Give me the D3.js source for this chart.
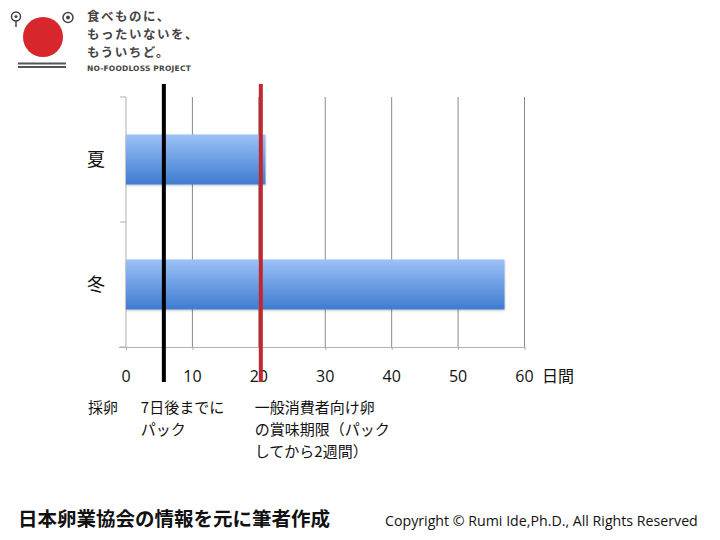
<!DOCTYPE html>
<html><head><meta charset="utf-8">
<script src="https://cdn.jsdelivr.net/npm/d3@7"></script>
<style>
html,body{margin:0;padding:0;background:#fff;}
text{font-family:"Noto Sans CJK JP","Noto Sans",sans-serif;}
</style></head>
<body>
<svg id="c" width="720" height="540"></svg>
<script>
const categories = ["夏", "冬"];
const values = [21, 57];
const xTicks = [0, 10, 20, 30, 40, 50, 60];
const xUnit = "日間";
const markerLines = [{name: "pack", value: 5.7, color: "#000000"}, {name: "expiry", value: 20.3, color: "#c1272d"}];
const annotations = [
  {value: 0, dx: -38, lines: ["採卵"]},
  {value: 5.7, dx: -23, lines: ["7日後までに", "パック"]},
  {value: 20.3, dx: -6, lines: ["一般消費者向け卵", "の賞味期限（パック", "してから2週間）"]}
];
const logoLines = ["食べものに、", "もったいないを、", "もういちど。"];
const logoSub = "NO-FOODLOSS PROJECT";
const source = "日本卵業協会の情報を元に筆者作成";
const copyright = "Copyright © Rumi Ide,Ph.D.,  All Rights Reserved";

const svg = d3.select("#c");
const x = d3.scaleLinear().domain([0, 60]).range([126, 524.5]);
const y = d3.scaleBand().domain(categories).range([97, 347]).paddingInner(0.6).paddingOuter(0.3);

const defs = svg.append("defs");
const g = defs.append("linearGradient").attr("id", "bg").attr("x1", 0).attr("y1", 0).attr("x2", 0).attr("y2", 1);
g.append("stop").attr("offset", "0%").attr("stop-color", "#9cc2f7");
g.append("stop").attr("offset", "100%").attr("stop-color", "#3e7bd0");
const f = defs.append("filter").attr("id", "sh").attr("x", "-5%").attr("y", "-20%").attr("width", "110%").attr("height", "140%");
f.append("feDropShadow").attr("dx", 0).attr("dy", 1).attr("stdDeviation", 1).attr("flood-color", "#000").attr("flood-opacity", 0.25);

// gridlines
svg.append("g").selectAll("line").data(xTicks.filter(d => d > 0)).join("line")
  .attr("x1", d => x(d)).attr("x2", d => x(d)).attr("y1", 97).attr("y2", 347)
  .attr("stroke", "#8a8a8a").attr("stroke-width", 1);

// y axis
const yAxisG = svg.append("g");
yAxisG.append("line").attr("x1", 126).attr("x2", 126).attr("y1", 97).attr("y2", 347).attr("stroke", "#b0b0b0");
yAxisG.selectAll("line.t").data([97, 222, 347]).join("line").attr("class", "t")
  .attr("x1", 120).attr("x2", 126).attr("y1", d => d).attr("y2", d => d).attr("stroke", "#b0b0b0");

// bars
svg.append("g").selectAll("rect").data(values).join("rect")
  .attr("x", x(0)).attr("y", (d, i) => y(categories[i]))
  .attr("width", d => x(d) - x(0)).attr("height", y.bandwidth())
  .attr("fill", "url(#bg)").attr("filter", "url(#sh)");

// x axis
const xAxis = d3.axisBottom(x).tickValues(xTicks).tickSize(3).tickFormat("");
const xa = svg.append("g").attr("transform", "translate(0,347)").call(xAxis);
xa.select(".domain").attr("stroke", "#b0b0b0").attr("d", "M119,0.5H525");
xa.selectAll(".tick line").attr("stroke", "#b0b0b0");

svg.append("g").selectAll("text").data(xTicks).join("text")
  .attr("x", d => x(d)).attr("y", 382).attr("text-anchor", "middle")
  .attr("font-size", 16).attr("fill", "#111").style("font-family", "'Open Sans','Noto Sans',sans-serif").text(d => d);
svg.append("text").attr("x", 542).attr("y", 382).attr("font-size", 16).attr("fill", "#111").text(xUnit);

// category labels
svg.append("g").selectAll("text").data(categories).join("text")
  .attr("x", 96).attr("y", d => y(d) + y.bandwidth() / 2 + 6).attr("text-anchor", "middle")
  .attr("font-size", 18).attr("fill", "#111").text(d => d);

// marker lines
svg.append("g").selectAll("line").data(markerLines).join("line")
  .attr("x1", d => x(d.value)).attr("x2", d => x(d.value)).attr("y1", 84).attr("y2", 382)
  .attr("stroke", d => d.color).attr("stroke-width", 4);

// annotations (one text element per line)
const ag = svg.append("g");
annotations.forEach(a => {
  a.lines.forEach((l, i) => ag.append("text").attr("font-size", 15).attr("fill", "#111")
    .attr("x", x(a.value) + a.dx).attr("y", 413 + i * 22).text(l));
});

// logo
const lg = svg.append("g");
lg.append("circle").attr("cx", 43).attr("cy", 37).attr("r", 20).attr("fill", "#d7262c");
[63.5, 67].forEach(yy => lg.append("line").attr("x1", 18).attr("x2", 66).attr("y1", yy).attr("y2", yy).attr("stroke", "#555").attr("stroke-width", 1.8));
lg.append("circle").attr("cx", 68).attr("cy", 17.5).attr("r", 5).attr("fill", "none").attr("stroke", "#444").attr("stroke-width", 1.5);
lg.append("circle").attr("cx", 68).attr("cy", 17.5).attr("r", 2).attr("fill", "#444");
lg.append("circle").attr("cx", 16).attr("cy", 16.5).attr("r", 4.5).attr("fill", "none").attr("stroke", "#444").attr("stroke-width", 1.5);
lg.append("circle").attr("cx", 16).attr("cy", 16.5).attr("r", 1.5).attr("fill", "#444");
lg.append("line").attr("x1", 16).attr("x2", 16).attr("y1", 21).attr("y2", 27).attr("stroke", "#444").attr("stroke-width", 1.5);
lg.selectAll("text.l").data(logoLines).join("text").attr("class", "l")
  .attr("x", 87).attr("y", (d, i) => 21 + i * 18).attr("font-size", 12.5).attr("font-weight", "bold")
  .attr("fill", "#444").attr("letter-spacing", 1.5).text(d => d);
lg.append("text").attr("x", 87).attr("y", 71).attr("font-size", 7.5).attr("font-weight", "bold")
  .attr("fill", "#444").attr("letter-spacing", 0.2).style("font-family", "'DejaVu Sans',sans-serif").text(logoSub);

// footer
svg.append("text").attr("x", 18).attr("y", 526).attr("font-size", 19.5).attr("font-weight", "bold").attr("fill", "#111").text(source);
svg.append("text").attr("x", 385).attr("y", 526).attr("font-size", 14.2).attr("fill", "#111")
  .style("font-family", "'Open Sans','Noto Sans',sans-serif").text(copyright);
</script>
</body></html>
